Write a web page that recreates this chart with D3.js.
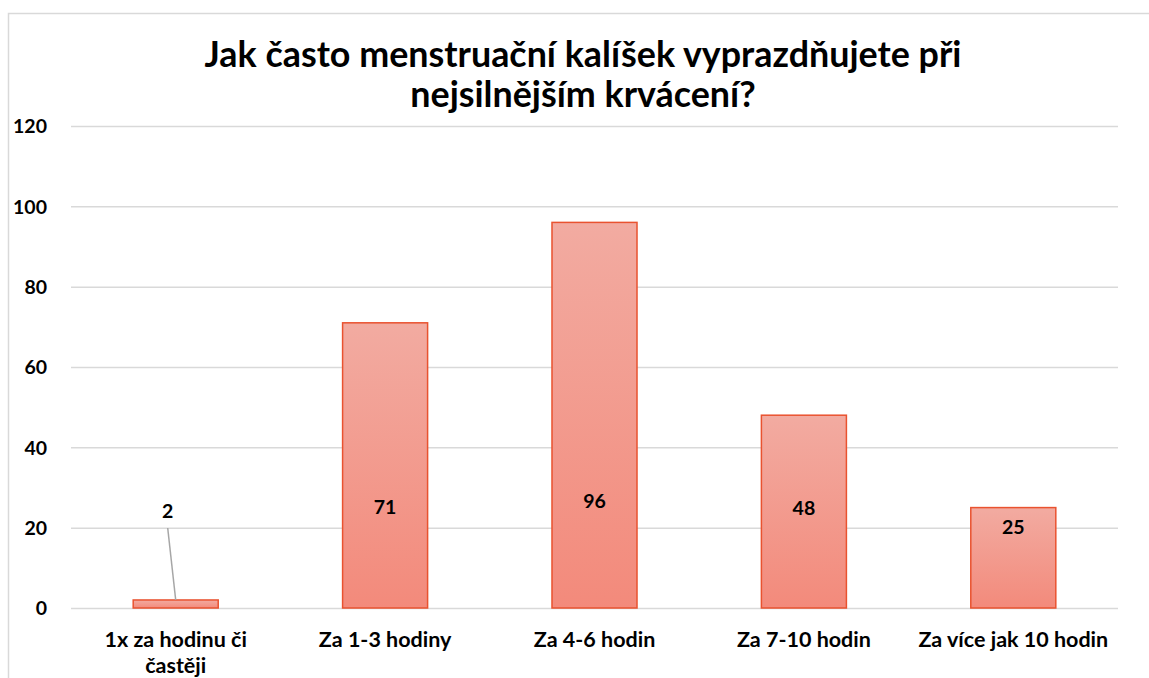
<!DOCTYPE html>
<html>
<head>
<meta charset="utf-8">
<script src="https://cdn.jsdelivr.net/npm/d3@7"></script>
<style>
    body { margin: 0; background: #fff; }
    svg { display: block; font-family: Lato, 'Open Sans', sans-serif; }
    .tickText { font-size: 19.5px; font-weight: bold; fill: #000; }
    .catText { font-size: 21.5px; font-weight: bold; fill: #000; }
    .dataLabel { font-size: 19.5px; font-weight: bold; fill: #000; }
    .titleText { font-weight: bold; fill: #000; }
</style>
</head>
<body>
<svg id="chart" width="1149" height="678"></svg>
<script>
// Data.
var titleLines = [ 'Jak často menstruační kalíšek vyprazdňujete při', 'nejsilnějším krvácení?' ];
var categories = [ '1x za hodinu či častěji', 'Za 1-3 hodiny', 'Za 4-6 hodin', 'Za 7-10 hodin', 'Za více jak 10 hodin' ];
var categoryLines = [ [ '1x za hodinu či', 'častěji' ], [ 'Za 1-3 hodiny' ], [ 'Za 4-6 hodin' ], [ 'Za 7-10 hodin' ], [ 'Za více jak 10 hodin' ] ];
var counts = [ 2, 71, 96, 48, 25 ];
var yTicks = [ 0, 20, 40, 60, 80, 100, 120 ];

// Layout.
var width = 1149,
    height = 678,
    plot = { left: 71, right: 1118, top: 126, bottom: 608 },
    // Excel labels were dragged by hand; baseline of each label, in axis units.
    labelBaseAt = [ 22.4, 23.4, 24.9, 23.2, 18.4 ],
    colors = {
        grid: '#d9d9d9',
        border: '#d9d9d9',
        barTop: '#f2aba1',
        barBottom: '#f38a7b',
        barStroke: '#e9522f',
        leader: '#a6a6a6'
    };

var svg = d3.select( '#chart' );

// Chart frame (runs past the right and bottom edges in the picture).
svg.append( 'rect' )
    .attr( 'x', 8.5 )
    .attr( 'y', 13.5 )
    .attr( 'width', 1200 )
    .attr( 'height', 700 )
    .attr( 'fill', 'none' )
    .attr( 'stroke', colors.border )
    .attr( 'stroke-width', 1.5 );

var defs = svg.append( 'defs' );
var grad = defs.append( 'linearGradient' )
    .attr( 'id', 'barGrad' )
    .attr( 'x1', 0 ).attr( 'y1', 0 )
    .attr( 'x2', 0 ).attr( 'y2', 1 );
grad.append( 'stop' ).attr( 'offset', '0%' ).attr( 'stop-color', colors.barTop );
grad.append( 'stop' ).attr( 'offset', '100%' ).attr( 'stop-color', colors.barBottom );

var x = d3.scaleBand()
    .domain( categories )
    .range( [ plot.left, plot.right ] )
    .paddingInner( 0.594 )
    .paddingOuter( 0.297 );

var y = d3.scaleLinear()
    .domain( [ 0, 120 ] )
    .range( [ plot.bottom, plot.top ] );

// Gridlines and y labels.
var yAxis = svg.append( 'g' )
    .attr( 'transform', 'translate(' + plot.left + ',0)' )
    .call( d3.axisLeft( y ).tickValues( yTicks ).tickSize( -( plot.right - plot.left ) ).tickPadding( 24 ) );
yAxis.select( '.domain' ).remove();
yAxis.selectAll( '.tick line' ).attr( 'stroke', colors.grid ).attr( 'stroke-width', 1.5 );
yAxis.selectAll( '.tick text' )
    .attr( 'class', 'tickText' )
    .attr( 'font-family', null )
    .attr( 'font-size', null )
    .attr( 'dy', '0.35em' );
yAxis.attr( 'font-family', null ).attr( 'font-size', null );

// Bars.
svg.append( 'g' )
    .selectAll( 'rect' )
    .data( counts )
    .join( 'rect' )
    .attr( 'x', ( d, i ) => x( categories[i] ) )
    .attr( 'y', d => y( d ) )
    .attr( 'width', x.bandwidth() )
    .attr( 'height', d => y( 0 ) - y( d ) )
    .attr( 'fill', 'url(#barGrad)' )
    .attr( 'stroke', colors.barStroke )
    .attr( 'stroke-width', 1.5 );

// Leader line for the small first bar's label.
svg.append( 'line' )
    .attr( 'x1', x( categories[0] ) + x.bandwidth() / 2 - 8 )
    .attr( 'y1', y( labelBaseAt[0] ) + 10 )
    .attr( 'x2', x( categories[0] ) + x.bandwidth() / 2 )
    .attr( 'y2', y( counts[0] ) )
    .attr( 'stroke', colors.leader )
    .attr( 'stroke-width', 1.5 );

// Data labels.
svg.append( 'g' )
    .selectAll( 'text' )
    .data( counts )
    .join( 'text' )
    .attr( 'class', 'dataLabel' )
    .attr( 'x', ( d, i ) => x( categories[i] ) + x.bandwidth() / 2 - ( i === 0 ? 8 : 0 ) )
    .attr( 'y', ( d, i ) => y( labelBaseAt[i] ) )
    .attr( 'text-anchor', 'middle' )
    .text( d => d );

// Category labels.
svg.append( 'g' )
    .selectAll( 'text' )
    .data( categories )
    .join( 'text' )
    .attr( 'class', 'catText' )
    .attr( 'text-anchor', 'middle' )
    .attr( 'x', d => x( d ) + x.bandwidth() / 2 )
    .attr( 'y', 647 )
    .each( function ( d, i ) {
        var t = d3.select( this );
        categoryLines[i].forEach( ( line, j ) => {
            t.append( 'tspan' )
                .attr( 'x', x( d ) + x.bandwidth() / 2 )
                .attr( 'dy', j === 0 ? 0 : 26 )
                .text( line );
        } );
    } );

// Title, sized so the first line spans the same width as in the picture.
var title = svg.append( 'text' )
    .attr( 'class', 'titleText' )
    .attr( 'text-anchor', 'middle' )
    .attr( 'font-size', 100 );
titleLines.forEach( ( line, j ) => {
    title.append( 'tspan' )
        .attr( 'x', 583 )
        .attr( 'y', 67 + j * 40 )
        .text( line );
} );
var firstLen = title.select( 'tspan' ).node().getComputedTextLength();
title.attr( 'font-size', 100 * 757 / firstLen );
</script>
</body>
</html>
